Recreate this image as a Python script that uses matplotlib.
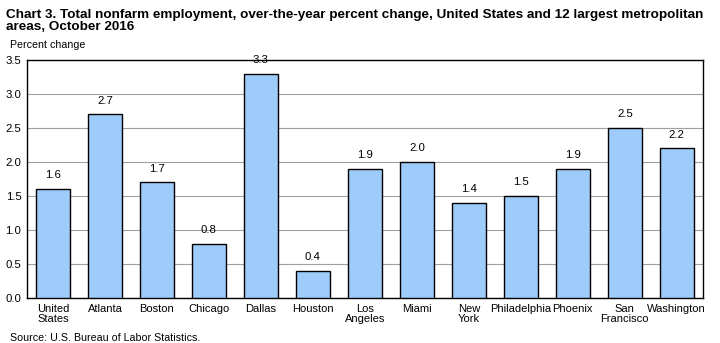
import matplotlib
matplotlib.use("Agg")
import matplotlib.pyplot as plt

categories = ["United\nStates", "Atlanta", "Boston", "Chicago", "Dallas", "Houston",
              "Los\nAngeles", "Miami", "New\nYork", "Philadelphia", "Phoenix",
              "San\nFrancisco", "Washington"]
values = [1.6, 2.7, 1.7, 0.8, 3.3, 0.4, 1.9, 2.0, 1.4, 1.5, 1.9, 2.5, 2.2]
yticks = [0.0, 0.5, 1.0, 1.5, 2.0, 2.5, 3.0, 3.5]

plt.rcParams['font.family'] = ['Liberation Sans', 'DejaVu Sans']

fig = plt.figure(figsize=(7.2, 3.43), dpi=100)
ax = fig.add_axes([0.0375, 0.131, 0.9385, 0.694])

x = range(len(categories))
bars = ax.bar(x, values, width=0.65, color="#9DCBFA", edgecolor="black", linewidth=1, zorder=3)
for xi, v in zip(x, values):
    ax.text(xi, v + 0.13, f"{v:.1f}", ha="center", va="bottom", fontsize=8.2)

ax.set_xlim(-0.5, len(categories) - 0.5)
ax.set_ylim(0, 3.5)
ax.set_yticks(yticks)
ax.set_yticklabels([f"{t:.1f}" for t in yticks], fontsize=8.2)
ax.set_xticks(list(x))
ax.set_xticklabels(categories, fontsize=8, linespacing=1.1)
ax.tick_params(axis="both", length=0, pad=4)
ax.yaxis.grid(True, color="#A0A0A0", linewidth=0.8, zorder=0)
for s in ax.spines.values():
    s.set_color("black")
    s.set_linewidth(1)

fig.text(0.008, 0.975, "Chart 3. Total nonfarm employment, over-the-year percent change, United States and 12 largest metropolitan\nareas, October 2016",
         fontsize=9.7, fontweight="bold", ha="left", va="top", linespacing=1.05)
fig.text(0.014, 0.868, "Percent change", fontsize=7.7, ha="left", va="center")
fig.text(0.014, 0.016, "Source: U.S. Bureau of Labor Statistics.", fontsize=7.7, ha="left", va="center")

fig.savefig("out.png", dpi=100)
